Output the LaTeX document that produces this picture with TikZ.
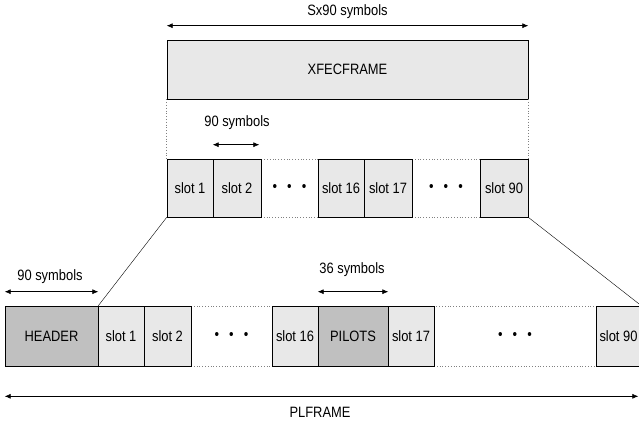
\documentclass[tikz,border=0pt]{standalone}
\usepackage{fontspec}
\setmainfont{Liberation Sans}[FakeStretch=0.86]
\usetikzlibrary{arrows.meta}
\definecolor{slotgray}{RGB}{232,232,232}
\definecolor{hdrgray}{RGB}{192,192,192}

\tikzset{
  cell/.style={draw, rectangle, inner sep=0pt, line width=0.6pt, fill=slotgray},
  dark/.style={cell, fill=hdrgray},
  gap/.style={draw=gray, dotted, rectangle, inner sep=0pt, line width=0.8pt, fill=white},
  dim/.style={{Latex[length=6pt,width=5pt]}-{Latex[length=6pt,width=5pt]}, line width=0.6pt},
}
\newcommand{\dotrow}{\textbullet\hspace{10pt}\textbullet\hspace{10pt}\textbullet}

\begin{document}
\begin{tikzpicture}[x=1pt, y=-1pt, every node/.style={font=\fontsize{15}{17}\selectfont}]
    \useasboundingbox (0,0) rectangle (639,421);
    % XFECFRAME and its slots
    \node[cell, minimum width=361pt, minimum height=59pt] (xfec) at (347.5,69.5) {XFECFRAME};
    \node[gap, minimum width=57pt, minimum height=58pt] (tdots1) at (289.5,188) {\dotrow};
    \node[gap, minimum width=68pt, minimum height=58pt] (tdots2) at (446,188) {\dotrow};
    \node[cell, minimum width=46pt, minimum height=58pt] (tslot1) at (190,188) {slot 1};
    \node[cell, minimum width=48pt, minimum height=58pt] (tslot2) at (237,188) {slot 2};
    \node[cell, minimum width=46pt, minimum height=58pt] (tslot16) at (341,188) {slot 16};
    \node[cell, minimum width=48pt, minimum height=58pt] (tslot17) at (388,188) {slot 17};
    \node[cell, minimum width=48pt, minimum height=58pt] (tslot90) at (504,188) {slot 90};
    \draw[gray, dotted, line width=0.8pt] (xfec.south west) -- (tslot1.north west);
    \draw[gray, dotted, line width=0.8pt] (xfec.south east) -- (tslot90.north east);

    % PLFRAME
    \node[gap, minimum width=81pt, minimum height=60pt] (bdots1) at (231.5,336) {\dotrow};
    \node[gap, minimum width=162pt, minimum height=60pt] (bdots2) at (515,336) {\dotrow};
    \node[dark, minimum width=93pt, minimum height=60pt] (header) at (51.5,336) {HEADER};
    \node[cell, minimum width=46pt, minimum height=60pt] (bslot1) at (121,336) {slot 1};
    \node[cell, minimum width=47pt, minimum height=60pt] (bslot2) at (167.5,336) {slot 2};
    \node[cell, minimum width=46pt, minimum height=60pt] (bslot16) at (295,336) {slot 16};
    \node[dark, minimum width=70pt, minimum height=60pt] (pilots) at (353,336) {PILOTS};
    \node[cell, minimum width=46pt, minimum height=60pt] (bslot17) at (411,336) {slot 17};
    \node[cell, minimum width=45pt, minimum height=60pt] (bslot90) at (618.5,336) {slot 90};

    % expansion lines
    \draw[line width=0.4pt] (tslot1.south west) -- (header.north east);
    \draw[line width=0.4pt] (tslot90.south east) -- (bslot90.north east);

    % dimension arrows
    \draw[dim] ([yshift=14pt]xfec.north west) -- ([yshift=14pt]xfec.north east);
    \node (sxlbl) at (347.5,12) {Sx90 symbols};
    \draw[dim] ([yshift=14pt]tslot2.north west) -- ([yshift=14pt,xshift=-2pt]tslot2.north east);
    \node (slotlbl) at (237,123) {90 symbols};
    \draw[dim] ([yshift=14pt]header.north west) -- ([yshift=14pt]header.north east);
    \node (hdrlbl) at (50,277) {90 symbols};
    \draw[dim] ([yshift=14pt]pilots.north west) -- ([yshift=14pt]pilots.north east);
    \node (pillbl) at (352,270) {36 symbols};
    \draw[dim] ([yshift=-30pt]header.south west) -- ([yshift=-30pt,xshift=-3pt]bslot90.south east);
    \node (pllbl) at (320,412) {PLFRAME};
\end{tikzpicture}
\end{document}
